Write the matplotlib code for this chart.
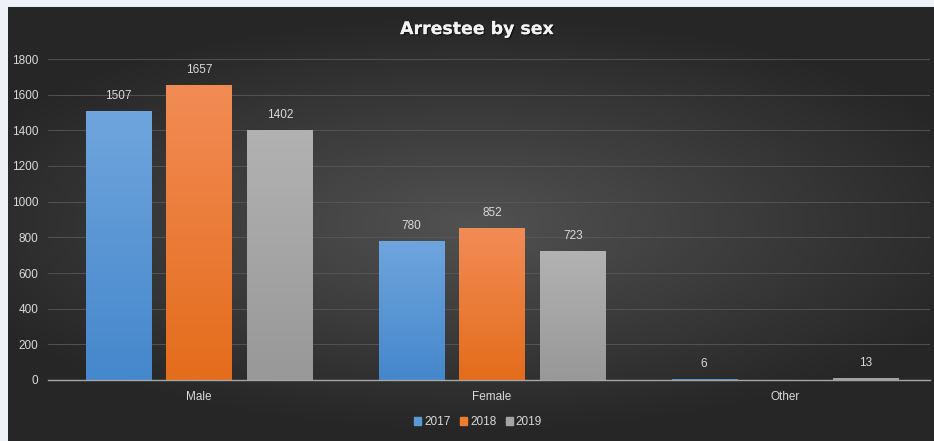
import matplotlib
matplotlib.use('Agg')
import matplotlib.pyplot as plt
import matplotlib.patheffects as pe
from matplotlib.patches import Patch
import numpy as np

categories = ['Male', 'Female', 'Other']
years = ['2017', '2018', '2019']
values_2017 = [1507, 780, 6]
values_2018 = [1657, 852, np.nan]
values_2019 = [1402, 723, 13]
yticks = [0, 200, 400, 600, 800, 1000, 1200, 1400, 1600, 1800]

series = [values_2017, values_2018, values_2019]
# (top colour, bottom colour) for the vertical gradient of each series
bar_colors = [('#6fa5dd', '#4587cc'), ('#f28c55', '#e46c1c'), ('#b2b2b2', '#989898')]
legend_colors = ['#5b9bd5', '#ed7d31', '#a5a5a5']

plt.rcParams['font.family'] = ['Liberation Sans', 'DejaVu Sans']

fig = plt.figure(figsize=(9.34, 4.41), dpi=100)
fig.patch.set_facecolor('#eef1f5')

# dark chart area with a soft radial glow
bg = fig.add_axes([8 / 934, 0, 1 - 8 / 934, 1 - 7 / 441])
bg.set_axis_off()
gx, gy = np.meshgrid(np.linspace(-1, 1, 400), np.linspace(-1, 1, 200))
r = np.sqrt((gx * 0.9) ** 2 + (gy * 1.1) ** 2)
shade = np.clip(0.32 - 0.16 * r, 0.15, 0.32)
bg.imshow(np.dstack([shade, shade, shade]), aspect='auto', extent=[0, 1, 0, 1], interpolation='bilinear')
bg.set_xlim(0, 1)
bg.set_ylim(0, 1)

ax = fig.add_axes([48 / 934, 61 / 441, 882 / 934, 321 / 441])
ax.patch.set_alpha(0)

width = 0.222
step = 0.276
x = np.arange(len(categories))
grad = np.linspace(1, 0, 100).reshape(-1, 1)

for i, (vals, year) in enumerate(zip(series, years)):
    pos = x + (i - 1) * step
    bars = ax.bar(pos, vals, width=width, color=legend_colors[i], zorder=2, label=year)
    top = np.array(matplotlib.colors.to_rgb(bar_colors[i][0]))
    bot = np.array(matplotlib.colors.to_rgb(bar_colors[i][1]))
    img = bot + (top - bot) * grad[:, :, None]
    for b, v in zip(bars, vals):
        if np.isnan(v):
            continue
        x0 = b.get_x()
        im = ax.imshow(img, aspect='auto', extent=[x0, x0 + b.get_width(), 0, max(v, 1)],
                       zorder=3, interpolation='bilinear')
        im.set_clip_path(b)
        ax.text(b.get_x() + b.get_width() / 2, v + 50, '{:d}'.format(int(v)),
                ha='center', va='bottom', color='#d9d9d9', fontsize=8.5, zorder=4)

ax.set_xlim(-0.515, 2.495)
ax.set_ylim(0, 1800)
ax.set_yticks(yticks)
ax.set_xticks(x)
ax.set_xticklabels(categories)
ax.tick_params(axis='both', length=0, colors='#d9d9d9', labelsize=8.5)
ax.tick_params(axis='x', pad=8)
ax.tick_params(axis='y', pad=7)
ax.yaxis.grid(True, color='#585858', linewidth=0.6, zorder=0)
ax.set_axisbelow(True)
for s in ['top', 'right', 'left']:
    ax.spines[s].set_visible(False)
ax.spines['bottom'].set_color('#a6a6a6')
ax.spines['bottom'].set_linewidth(1.0)
ax.spines['bottom'].set_zorder(5)

title = fig.text(0.511, 0.934, 'Arrestee by sex', ha='center', va='center', color='#f2f2f2',
                 fontsize=12.5, fontweight='bold', family=['DejaVu Sans'])
title.set_path_effects([pe.withSimplePatchShadow(offset=(1, -1), shadow_rgbFace='black', alpha=0.5),
                        pe.Normal()])

handles = [Patch(color=c, label=y) for c, y in zip(legend_colors, years)]
leg = fig.legend(handles=handles, loc='center', bbox_to_anchor=(0.512, 0.043), ncol=3,
                 frameon=False, fontsize=8.5, handlelength=0.6, handleheight=0.6,
                 handletextpad=0.25, columnspacing=0.8)
for t in leg.get_texts():
    t.set_color('#d9d9d9')

fig.savefig('out.png', dpi=100, facecolor=fig.get_facecolor())
